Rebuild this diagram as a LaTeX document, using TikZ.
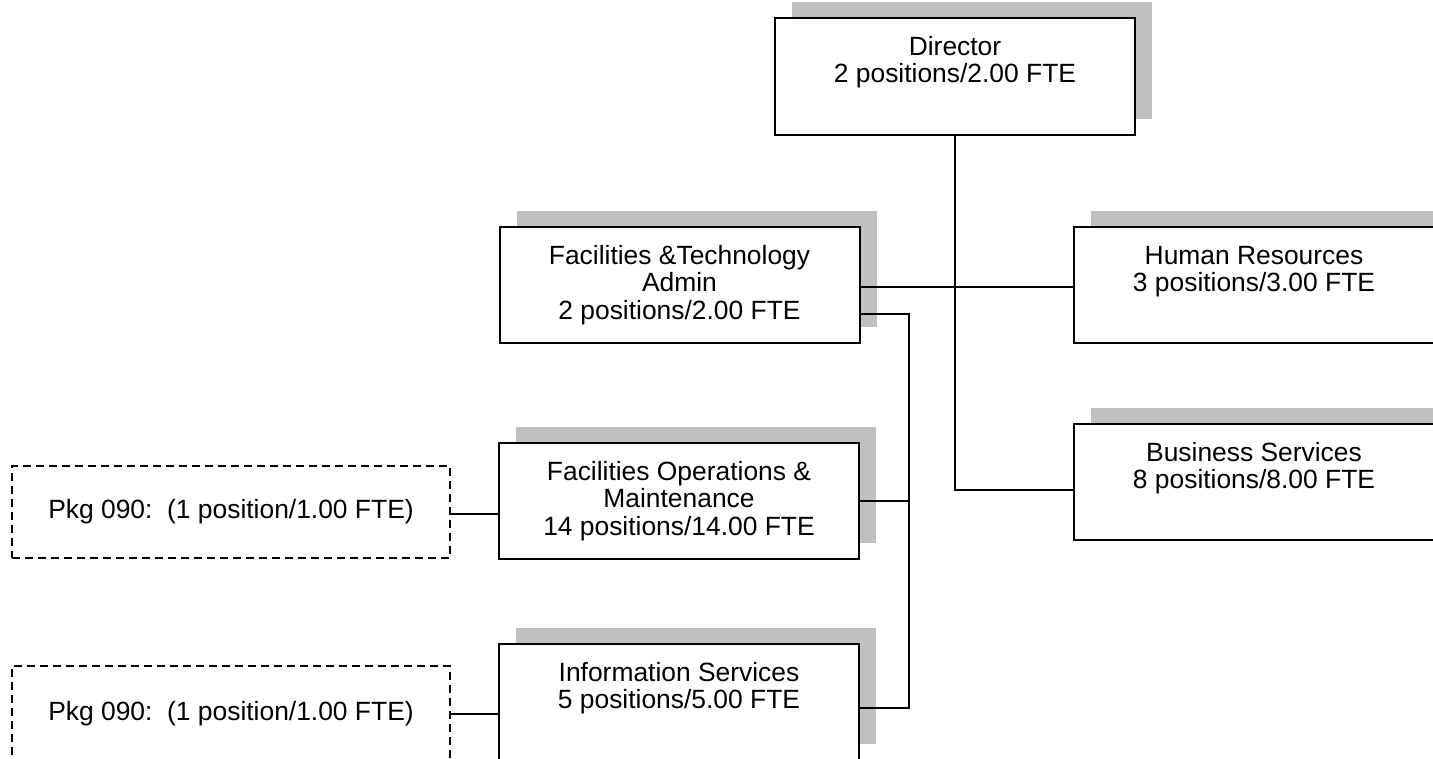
\documentclass[tikz,border=0pt]{standalone}
\usepackage{fontspec}
\setmainfont{Liberation Sans}
\usetikzlibrary{shadows}
\definecolor{shadowgray}{HTML}{C0C0C0}
\begin{document}
\begin{tikzpicture}[x=0.5pt,y=-0.5pt,
  orgbox/.style={draw, line width=1pt, fill=white, inner sep=0pt,
    minimum width=180pt, minimum height=58pt,
    general shadow={fill=shadowgray, shadow xshift=8.5pt, shadow yshift=8pt}},
  pkgbox/.style={draw, line width=1pt, dash pattern=on 4pt off 2.5pt,
    inner sep=0pt, minimum width=219pt, font=\fontsize{13.2pt}{15pt}\selectfont},
  caption/.style={anchor=north, inner sep=0pt, align=center, yshift=-9pt,
    font=\fontsize{13.2pt}{13.75pt}\selectfont},
  wire/.style={draw, line width=1pt}]
\useasboundingbox (0,0) rectangle (1433,759);

% unit boxes
\node[orgbox, minimum height=58.5pt] (dir) at (955,76.5) {};
\node[orgbox] (fta) at (679.5,285) {};
\node[orgbox] (hr)  at (1254,285) {};
\node[orgbox] (bs)  at (1254,482) {};
\node[orgbox] (fom) at (679,501) {};
\node[orgbox] (is)  at (679,702) {};

% box captions (the strut fixes the first baseline below the top edge)
\node[caption] (dirtxt) at (dir.north)
  {\rule{0pt}{10pt}Director\\2 positions/2.00 FTE};
\node[caption] (hrtxt) at (hr.north)
  {\rule{0pt}{10pt}Human Resources\\3 positions/3.00 FTE};
\node[caption] (bstxt) at (bs.north)
  {\rule{0pt}{10pt}Business Services\\8 positions/8.00 FTE};
\node[caption] (ftatxt) at (fta.north)
  {\rule{0pt}{10pt}Facilities \&Technology\\Admin\\2 positions/2.00 FTE};
\node[caption] (fomtxt) at (fom.north)
  {\rule{0pt}{10pt}Facilities Operations \&\\Maintenance\\14 positions/14.00 FTE};
\node[caption] (istxt) at (is.north)
  {\rule{0pt}{10pt}Information Services\\5 positions/5.00 FTE};

% package positions
\node[pkgbox, minimum height=46pt] (pkg1) at (231,512)
  {Pkg 090:\ \ (1 position/1.00 FTE)};
\node[pkgbox, minimum height=48pt] (pkg2) at (231,714)
  {Pkg 090:\ \ (1 position/1.00 FTE)};

% reporting lines
\draw[wire] (dir.south) |- ([yshift=-4pt]bs.west);
\draw[wire] ([yshift=-1pt]fta.east) -- ([yshift=-1pt]hr.west);
\coordinate (bus) at ([xshift=24pt,yshift=-14.5pt]fta.east);
\draw[wire] ([yshift=-14.5pt]fta.east) -- (bus) |- ([yshift=-3pt]is.east);
\draw[wire] (bus |- fom.east) -- (fom.east);
\draw[wire] ([yshift=-1pt]pkg1.east) -- ([yshift=-1pt]pkg1.east -| fom.west);
\draw[wire] (pkg2.east) -- (pkg2.east -| is.west);
\end{tikzpicture}
\end{document}
